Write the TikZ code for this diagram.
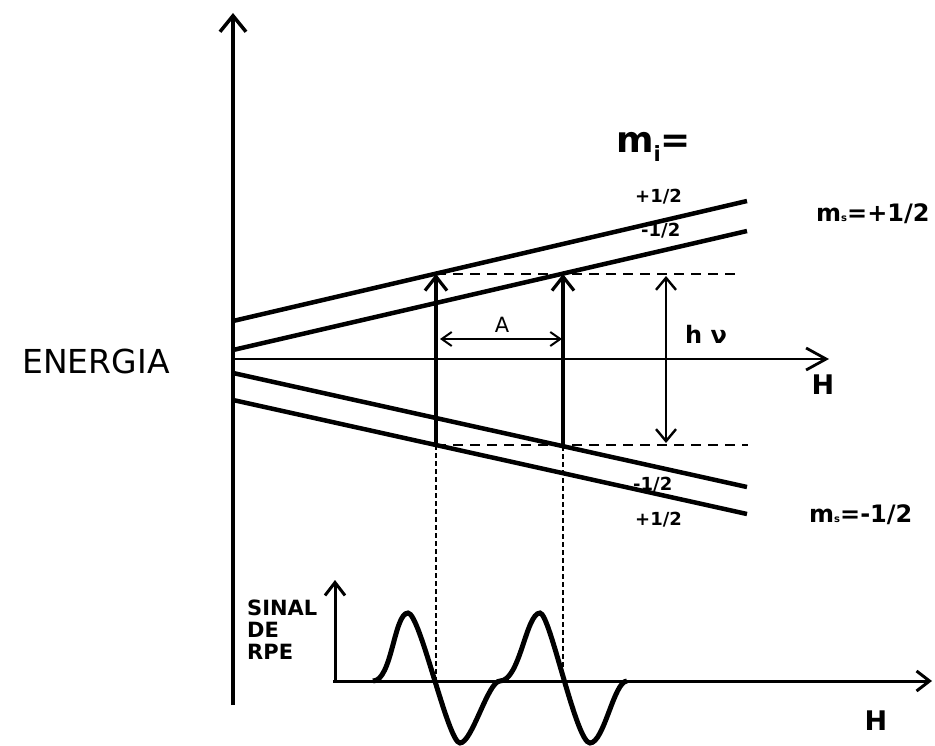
\documentclass[tikz,border=0pt]{standalone}
\usepackage{fontspec}
\setmainfont{DejaVu Sans}
\usetikzlibrary{arrows.meta}

\newcommand{\fsz}[1]{\fontsize{#1}{#1}\selectfont}

\begin{document}
\begin{tikzpicture}[
  x=1pt, y=-1pt,
  axis/.style={
    line width=3.5pt,
    -{Straight Barb[length=16pt,width=26pt]}
  },
  level/.style={line width=4.5pt},
  trans/.style={
    line width=3.2pt,
    -{Straight Barb[length=14pt,width=22pt]}
  },
  gap/.style={
    line width=2.4pt,
    {Straight Barb[length=12pt,width=20pt]}-{Straight Barb[length=12pt,width=20pt]}
  },
  split/.style={
    line width=2pt,
    {Straight Barb[length=10pt,width=14pt]}-{Straight Barb[length=10pt,width=14pt]}
  },
  guide/.style={line width=1.8pt, dash pattern=on 10pt off 7pt},
  drop/.style={line width=2pt, dash pattern=on 5pt off 3pt},
  small axis/.style={
    line width=3pt,
    -{Straight Barb[length=13pt,width=20pt]}
  },
  signal/.style={line width=5pt},
  lbl/.style={inner sep=0pt, anchor=base west, font=\bfseries\fsz{18}}
]
\useasboundingbox (0,0) rectangle (935,746);

% axes of the energy diagram
\coordinate (ebot) at (233,705);
\coordinate (etop) at (233,13);
\coordinate (origin) at (233,359);
\coordinate (htip) at (829,359);
\draw[axis] (ebot) -- (etop);
\draw[axis, line width=2.8pt, -{Straight Barb[length=20pt,width=22pt]}] (origin) -- (htip);

% Zeeman levels
\coordinate (a1) at (233,321);  \coordinate (a2) at (747,201);
\coordinate (b1) at (233,350);  \coordinate (b2) at (747,231);
\coordinate (c1) at (233,373);  \coordinate (c2) at (747,487);
\coordinate (d1) at (233,400);  \coordinate (d2) at (747,514);
\draw[level] (a1) -- (a2);
\draw[level] (b1) -- (b2);
\draw[level] (c1) -- (c2);
\draw[level] (d1) -- (d2);

% transitions
\coordinate (t1lo) at (436,445);  \coordinate (t1hi) at (436,274);
\coordinate (t2lo) at (563,446);  \coordinate (t2hi) at (563,274);
\coordinate (guidehi) at (735,274);
\coordinate (guidelo) at (748,445);
\draw[guide] (t1hi) -- (guidehi);
\draw[guide] (t1lo) -- (guidelo);
\draw[trans] (t1lo) -- (t1hi);
\draw[trans] (t2lo) -- (t2hi);

\coordinate (hvhi) at (666,276);
\coordinate (hvlo) at (666,443);
\draw[gap] (hvlo) -- (hvhi);
\coordinate (al) at (440,339);
\coordinate (ar) at (562,339);
\draw[split] (al) -- (ar);

% RPE signal
\coordinate (sbot) at (335,682);
\coordinate (stop) at (335,580);
\coordinate (send) at (932,681);
\coordinate (f1) at (436,681);
\coordinate (f2) at (563,681);
\draw[drop] (t1lo) -- (f1);
\draw[drop] (t2lo) -- (f2);
\draw[small axis] (sbot) -- (stop);
\draw[small axis] (333,681) -- (send);
\draw[signal] (373,681) .. controls (392,681) and (394,613) .. (408,613)
  .. controls (420,613) and (448,743) .. (460,743)
  .. controls (472,743) and (488,681) .. (500,681)
  .. controls (520,681) and (526,613) .. (540,613)
  .. controls (550,613) and (576,743) .. (590,743)
  .. controls (604,743) and (614,681) .. (627,681);

% labels
\node[inner sep=0pt, font=\fsz{33}] (energia) at (96,361) {ENERGIA};
\node[lbl, font=\bfseries\fsz{36}] (mi) at (616,153)
  {m\raisebox{-9pt}{\fsz{21}i}=};
\node[lbl, font=\bfseries\fsz{24}] (msup) at (816,222)
  {m{\fsz{10}s}=+1/2};
\node[lbl, font=\bfseries\fsz{24}] (msdown) at (809,522)
  {m{\fsz{10}s}=-1/2};
\node[lbl] (miup1) at (635,203) {+1/2};
\node[lbl] (miup2) at (641,237) {-1/2};
\node[lbl] (milo2) at (633,490) {-1/2};
\node[lbl] (milo1) at (635,525) {+1/2};
\node[inner sep=0pt, font=\fsz{21}] (alabel) at (502,325) {A};
\node[lbl, font=\bfseries\fsz{24}] (hnu) at (685,343) {h ν};
\node[inner sep=0pt, font=\bfseries\fsz{27}] (haxis) at (823,385) {H};
\node[inner sep=0pt, font=\bfseries\fsz{27}] (hsignal) at (876,721) {H};
\node[inner sep=0pt, anchor=north west, align=left,
  font=\bfseries\fontsize{21}{22}\selectfont] (sinal) at (247,600)
  {SINAL\\DE\\RPE};

\end{tikzpicture}
\end{document}
